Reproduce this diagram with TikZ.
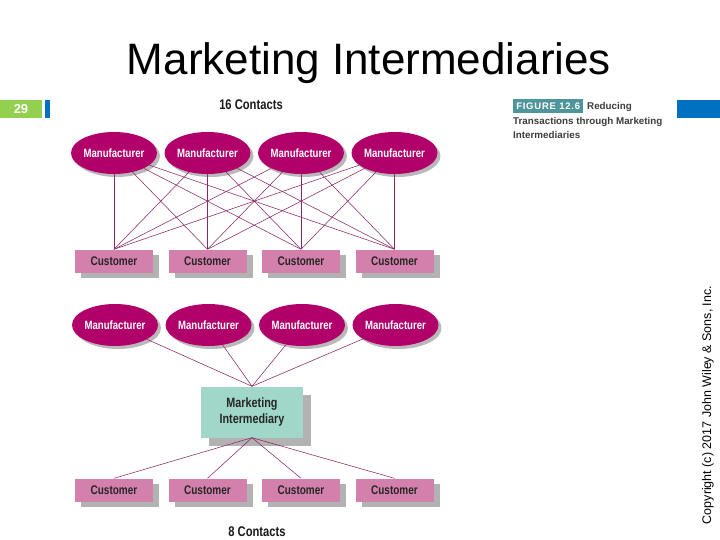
\documentclass[tikz,border=0pt]{standalone}
\usepackage{fontspec}
\setmainfont{Liberation Sans}
\newfontfamily\condfont[FakeStretch=0.8]{Liberation Sans}
\newfontfamily\tagfont[LetterSpace=8]{Liberation Sans}
\usetikzlibrary{shapes.geometric,shadows}

\definecolor{makerred}{RGB}{178,0,106}
\definecolor{buyerpink}{RGB}{212,128,172}
\definecolor{hubteal}{RGB}{160,215,200}
\definecolor{linkplum}{RGB}{140,40,100}
\definecolor{tagteal}{RGB}{78,150,155}
\definecolor{slidegreen}{RGB}{146,208,80}
\definecolor{slideblue}{RGB}{0,112,192}
\definecolor{captext}{RGB}{60,60,60}

\tikzset{
  maker/.style={ellipse, fill=makerred, minimum width=84pt, minimum height=42pt, inner sep=0pt,
    text=white, font=\condfont\bfseries\fontsize{12}{12}\selectfont,
    general shadow={fill=gray!55, shadow xshift=3pt, shadow yshift=-3pt}},
  buyer/.style={rectangle, fill=buyerpink, minimum width=78pt, minimum height=23pt, inner sep=0pt,
    text=black!85, font=\condfont\bfseries\fontsize{12.5}{12.5}\selectfont,
    general shadow={fill=gray!60, shadow xshift=6pt, shadow yshift=-5pt}},
  middleman/.style={rectangle, fill=hubteal, minimum width=102pt, minimum height=51pt, inner sep=0pt,
    align=center, text=black!85, font=\condfont\bfseries\fontsize{13.5}{16}\selectfont,
    general shadow={fill=gray!60, shadow xshift=8pt, shadow yshift=-8pt}},
  tally/.style={font=\condfont\bfseries\fontsize{14}{14}\selectfont, text=black!90},
  capline/.style={anchor=base west, inner sep=0pt, text=captext, font=\bfseries\fontsize{9.8}{12}\selectfont},
  link/.style={draw=linkplum, line width=0.55pt},
}

\begin{document}
\begin{tikzpicture}[x=1pt, y=-1pt, node distance=93.5pt]
\useasboundingbox (0,0) rectangle (720,540);

% slide frame
\node (title) [anchor=base, font=\fontsize{44}{44}\selectfont] at (369,75) {Marketing Intermediaries};
\fill[slidegreen] (0,100) rectangle (42,118);
\node (pagenum) [text=white, font=\bfseries\fontsize{13}{13}\selectfont] at (21,109) {29};
\fill[slideblue] (45,100) rectangle (50,118);
\fill[slideblue] (677,100) rectangle (720,118);
\node (copy) [rotate=90, font=\fontsize{12.5}{12.5}\selectfont] at (708,405) {Copyright (c) 2017 John Wiley \& Sons, Inc.};

% figure caption
\node (figtag) [anchor=north west, fill=tagteal, text=white, minimum width=70pt, minimum height=14pt, inner sep=0pt,
  font=\tagfont\bfseries\fontsize{9.5}{9.5}\selectfont] at (513,99) {FIGURE 12.6};
\node (cap1) [capline] at (587,110) {Reducing};
\node (cap2) [capline] at (513,125) {Transactions through Marketing};
\node (cap3) [capline] at (513,139) {Intermediaries};

% 16 contacts
\node (top) [tally] at (251,105) {16 Contacts};
\node (m1) [maker] at (114,153) {Manufacturer};
\node (m2) [maker] [right of = m1] {Manufacturer};
\node (m3) [maker] [right of = m2] {Manufacturer};
\node (m4) [maker] [right of = m3] {Manufacturer};
\node (c1) [buyer] at (114,261) {Customer};
\node (c2) [buyer] [right of = c1] {Customer};
\node (c3) [buyer] [right of = c2] {Customer};
\node (c4) [buyer] [right of = c3] {Customer};
\draw[link] (m1) -- (c1.north);
\draw[link] (m1) -- (c2.north);
\draw[link] (m1) -- (c3.north);
\draw[link] (m1) -- (c4.north);
\draw[link] (m2) -- (c1.north);
\draw[link] (m2) -- (c2.north);
\draw[link] (m2) -- (c3.north);
\draw[link] (m2) -- (c4.north);
\draw[link] (m3) -- (c1.north);
\draw[link] (m3) -- (c2.north);
\draw[link] (m3) -- (c3.north);
\draw[link] (m3) -- (c4.north);
\draw[link] (m4) -- (c1.north);
\draw[link] (m4) -- (c2.north);
\draw[link] (m4) -- (c3.north);
\draw[link] (m4) -- (c4.north);

% 8 contacts
\node (n1) [maker] at (115,325) {Manufacturer};
\node (n2) [maker] [right of = n1] {Manufacturer};
\node (n3) [maker] [right of = n2] {Manufacturer};
\node (n4) [maker] [right of = n3] {Manufacturer};
\node (hub) [middleman] at (252,412) {Marketing\\Intermediary};
\node (d1) [buyer] at (114,490) {Customer};
\node (d2) [buyer] [right of = d1] {Customer};
\node (d3) [buyer] [right of = d2] {Customer};
\node (d4) [buyer] [right of = d3] {Customer};
\node (bottom) [tally] at (257,532) {8 Contacts};
\draw[link] (n1) -- (hub.north);
\draw[link] (n2) -- (hub.north);
\draw[link] (n3) -- (hub.north);
\draw[link] (n4) -- (hub.north);
\draw[link] (hub.south) -- (d1.north);
\draw[link] (hub.south) -- (d2.north);
\draw[link] (hub.south) -- (d3.north);
\draw[link] (hub.south) -- (d4.north);
\end{tikzpicture}
\end{document}
